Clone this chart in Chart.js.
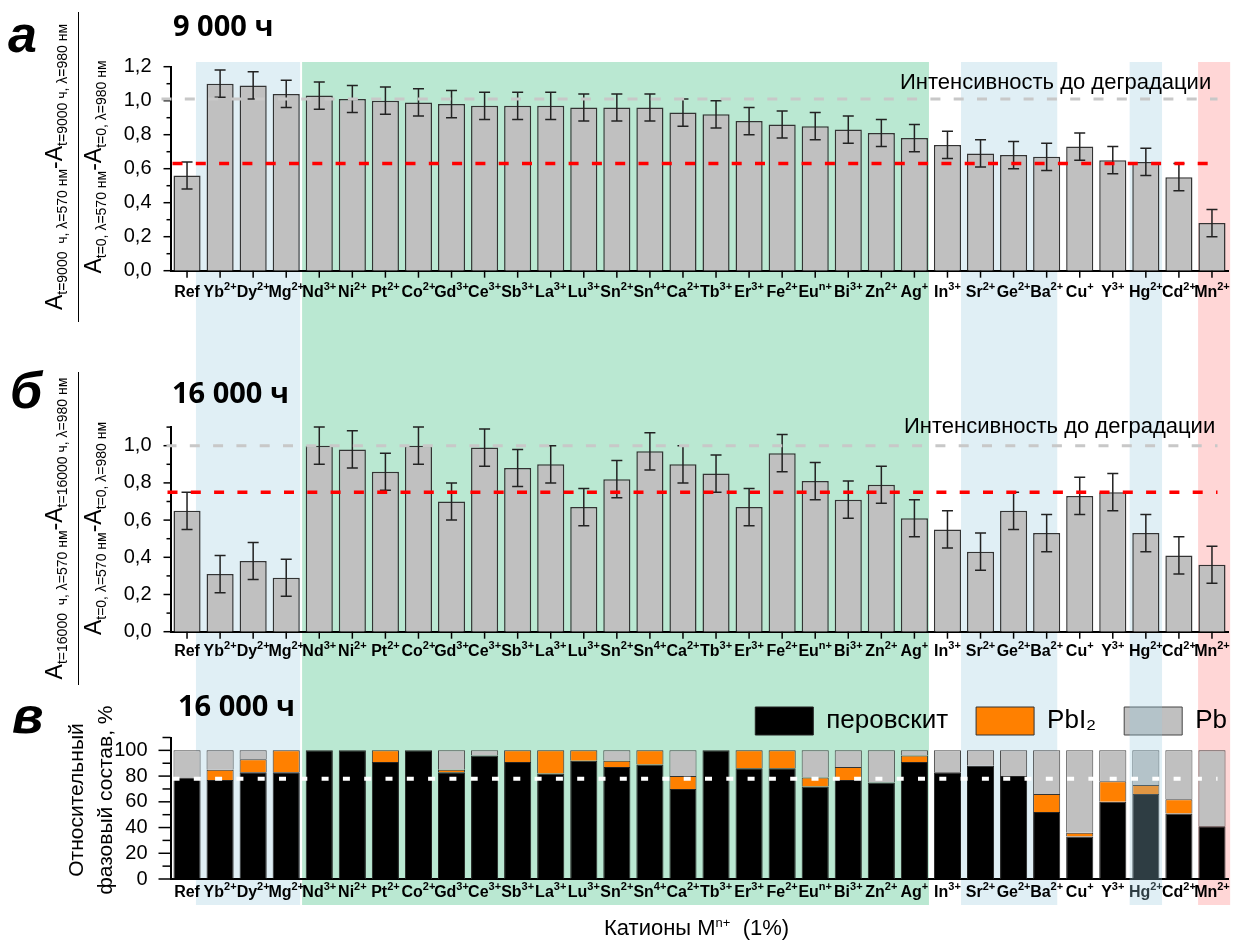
<!DOCTYPE html>
<html lang="ru">
<head>
<meta charset="utf-8">
<title>Катионы Mn+ (1%)</title>
<script src="https://cdn.jsdelivr.net/npm/chart.js@4.4.1/dist/chart.umd.min.js"></script>
<style>
  body { margin: 0; background: #fff; }
  #page { position: relative; width: 1237px; height: 943px; overflow: hidden;
          font-family: 'Liberation Sans', Arial, sans-serif; color: #000; }
  canvas { position: absolute; left: 0; }
  .txt { position: absolute; white-space: nowrap; line-height: 1; z-index: 5; }
  .letter { font-size: 52px; font-weight: bold; font-style: italic; }
  .period { font-family: 'Open Sans', sans-serif; font-weight: 700; font-size: 29px; }
  .note { font-size: 22px; }
  .note sup { font-size: 13px; vertical-align: 8px; line-height: 0; }
  .rot { position: absolute; transform-origin: 0 0; transform: rotate(-90deg); z-index: 5; white-space: nowrap; }
  .frac .num { height: 48px; line-height: 48px; text-align: center; font-size: 23px; border-bottom: 1.5px solid #000; }
  .frac .den { height: 28px; line-height: 28px; text-align: center; font-size: 23px; }
  .frac sub { font-size: 14px; vertical-align: -5px; line-height: 0; }
  .ytitle { font-size: 21px; line-height: 28.5px; text-align: center; width: 220px; }
</style>
</head>
<body>
<div id="page">
  <canvas id="chartA" width="1237" height="330" style="top:0"></canvas>
  <canvas id="chartB" width="1237" height="350" style="top:330px"></canvas>
  <canvas id="chartC" width="1237" height="303" style="top:640px"></canvas>

  <div class="txt letter" style="left:8px;top:8px">а</div>
  <div class="txt period" style="left:173px;top:10px">9 000 ч</div>
  <div class="txt note" style="left:900px;top:71px">Интенсивность до деградации</div>
  <div class="rot frac" style="left:30px;top:322px;width:310px">
    <div class="num">A<sub>t=9000&nbsp; ч, λ=570 нм</sub>-A<sub>t=9000 ч, λ=980 нм</sub></div>
    <div class="den">A<sub>t=0, λ=570 нм</sub>-A<sub>t=0, λ=980 нм</sub></div>
  </div>

  <div class="txt letter" style="left:10px;top:364px">б</div>
  <div class="txt period" style="left:172px;top:377px">16 000 ч</div>
  <div class="txt note" style="left:904px;top:415px">Интенсивность до деградации</div>
  <div class="rot frac" style="left:30px;top:685px;width:313px">
    <div class="num">A<sub>t=16000&nbsp; ч, λ=570 нм</sub>-A<sub>t=16000 ч, λ=980 нм</sub></div>
    <div class="den">A<sub>t=0, λ=570 нм</sub>-A<sub>t=0, λ=980 нм</sub></div>
  </div>

  <div class="txt letter" style="left:12px;top:689px">в</div>
  <div class="txt period" style="left:178px;top:690px">16 000 ч</div>
  <div class="rot ytitle" style="left:62px;top:910px">Относительный<br>фазовый состав, %</div>
  <div class="txt note" style="left:604px;top:917px">Катионы M<sup>n+</sup>&nbsp; (1%)</div>
</div>

<script>
// cation names and their charges, drawn as superscripts under each bar
var cations = ['Ref', 'Yb', 'Dy', 'Mg', 'Nd', 'Ni', 'Pt', 'Co', 'Gd', 'Ce', 'Sb', 'La', 'Lu', 'Sn', 'Sn', 'Ca',
               'Tb', 'Er', 'Fe', 'Eu', 'Bi', 'Zn', 'Ag', 'In', 'Sr', 'Ge', 'Ba', 'Cu', 'Y', 'Hg', 'Cd', 'Mn'];
var charges = ['', '2+', '2+', '2+', '3+', '2+', '2+', '2+', '3+', '3+', '3+', '3+', '3+', '2+', '4+', '2+',
               '3+', '3+', '2+', 'n+', '3+', '2+', '+', '3+', '2+', '2+', '2+', '+', '3+', '2+', '2+', '2+'];

// normalised absorbance after 9000 h and 16000 h
var retained9000 = [0.56, 1.10, 1.09, 1.04, 1.03, 1.01, 1.00, 0.99, 0.98, 0.97, 0.97, 0.97, 0.96, 0.96, 0.96, 0.93,
                    0.92, 0.88, 0.86, 0.85, 0.83, 0.81, 0.78, 0.74, 0.69, 0.68, 0.67, 0.73, 0.65, 0.64, 0.55, 0.28];
var error9000 = [0.08, 0.08, 0.08, 0.08, 0.08, 0.08, 0.08, 0.08, 0.08, 0.08, 0.08, 0.08, 0.08, 0.08, 0.08, 0.08,
                 0.08, 0.08, 0.08, 0.08, 0.08, 0.08, 0.08, 0.08, 0.08, 0.08, 0.08, 0.08, 0.08, 0.08, 0.08, 0.08];
var retained16000 = [0.65, 0.31, 0.38, 0.29, 1.00, 0.98, 0.86, 1.00, 0.70, 0.99, 0.88, 0.90, 0.67, 0.82, 0.97, 0.90,
                     0.85, 0.67, 0.96, 0.81, 0.71, 0.79, 0.61, 0.55, 0.43, 0.65, 0.53, 0.73, 0.75, 0.53, 0.41, 0.36];
var error16000 = [0.10, 0.10, 0.10, 0.10, 0.10, 0.10, 0.10, 0.10, 0.10, 0.10, 0.10, 0.10, 0.10, 0.10, 0.10, 0.10,
                  0.10, 0.10, 0.10, 0.10, 0.10, 0.10, 0.10, 0.10, 0.10, 0.10, 0.10, 0.10, 0.10, 0.10, 0.10, 0.10];

// phase composition after 16000 h, %
var perovskite = [79, 77, 83, 83, 100, 100, 91, 100, 83, 96, 91, 82, 92, 87, 89, 70,
                  100, 86, 86, 72, 77, 75, 91, 83, 88, 80, 52, 33, 60, 66, 51, 41];
var leadIodide = [0, 8, 10, 17, 0, 0, 9, 0, 2, 0, 9, 18, 8, 5, 11, 10,
                  0, 14, 14, 7, 10, 0, 5, 0, 0, 0, 14, 3, 16, 7, 11, 0];
var lead = [21, 15, 7, 0, 0, 0, 0, 0, 15, 4, 0, 0, 0, 8, 0, 20,
            0, 0, 0, 21, 13, 25, 4, 17, 12, 20, 34, 64, 24, 27, 38, 59];

// reference levels
var levelBefore9000 = 1.01, levelRef9000 = 0.63;
var levelBefore16000 = 1.0, levelRef16000 = 0.75;
var levelRefPhase = 78;

var FONT = "'Liberation Sans', Arial, sans-serif";
Chart.defaults.font.family = FONT;
Chart.defaults.color = '#000';

// coloured groups of cations, in category units
var BLUE = 'rgba(152,202,222,0.3)';
var groups = [
  { from: 0.27, to: 3.42, color: BLUE },
  { from: 3.48, to: 22.44, color: '#bae8d2' },
  { from: 23.41, to: 26.32, color: BLUE },
  { from: 28.51, to: 29.49, color: BLUE, hg: true },
  { from: 30.58, to: 31.55, color: '#ffd6d6' }
];

function paintBand(chart, b, o) {
  var xs = chart.scales.x, ctx = chart.ctx;
  var x0 = xs.getPixelForValue(b.from), x1 = xs.getPixelForValue(b.to);
  ctx.save();
  ctx.fillStyle = b.color;
  ctx.fillRect(x0, o.bandTop, x1 - x0, o.bandBottom - o.bandTop);
  ctx.restore();
}

var panelDecor = {
  id: 'panelDecor',
  afterLayout: function(chart, args, o) {
    if (o.legendShift && chart.legend) {
      var L = chart.legend;
      L.top += o.legendShift.y; L.bottom += o.legendShift.y;
      L.left += o.legendShift.x; L.right += o.legendShift.x;
    }
  },
  beforeDraw: function(chart, args, o) {
    groups.forEach(function(b) {
      if (!(b.hg && o.hgOnTop)) paintBand(chart, b, o);
    });
  },
  afterDraw: function(chart, args, o) {
    var ctx = chart.ctx, area = chart.chartArea;
    var xs = chart.scales.x, ys = chart.scales.y;
    ctx.save();
    ctx.strokeStyle = '#000';
    ctx.lineWidth = 1.5;

    // major and minor ticks on the value axis
    var n = Math.round((ys.max - ys.min) / o.minorStep);
    for (var k = 0; k <= n; k++) {
      var y = ys.getPixelForValue(ys.min + k * o.minorStep);
      var len = k % 2 === 0 ? o.majorLen : o.minorLen;
      ctx.beginPath(); ctx.moveTo(area.left, y); ctx.lineTo(area.left - len, y); ctx.stroke();
    }
    if (o.xTickLen) {
      cations.forEach(function(c, i) {
        var x = xs.getPixelForTick(i);
        ctx.beginPath(); ctx.moveTo(x, area.bottom); ctx.lineTo(x, area.bottom + o.xTickLen); ctx.stroke();
      });
    }

    // cation labels with raised charge
    ctx.fillStyle = '#000';
    ctx.textBaseline = 'alphabetic';
    ctx.textAlign = 'left';
    var yText = area.bottom + o.labelGap;
    cations.forEach(function(c, i) {
      var x = xs.getPixelForTick(i);
      ctx.font = 'bold ' + o.labelSize + 'px ' + FONT;
      var w1 = ctx.measureText(c).width;
      ctx.font = 'bold ' + o.supSize + 'px ' + FONT;
      var w2 = ctx.measureText(charges[i]).width;
      var left = x - (w1 + w2) / 2;
      ctx.font = 'bold ' + o.labelSize + 'px ' + FONT;
      ctx.fillText(c, left, yText);
      ctx.font = 'bold ' + o.supSize + 'px ' + FONT;
      ctx.fillText(charges[i], left + w1, yText - o.supRise);
    });

    // error bars
    if (o.errors) {
      var meta = chart.getDatasetMeta(0);
      var vals = chart.data.datasets[0].data;
      ctx.strokeStyle = '#222';
      ctx.lineWidth = 1.5;
      meta.data.forEach(function(bar, i) {
        var yHi = ys.getPixelForValue(vals[i] + o.errors[i]);
        var yLo = ys.getPixelForValue(vals[i] - o.errors[i]);
        ctx.beginPath();
        ctx.moveTo(bar.x, yHi); ctx.lineTo(bar.x, yLo);
        ctx.moveTo(bar.x - 5.5, yHi); ctx.lineTo(bar.x + 5.5, yHi);
        ctx.moveTo(bar.x - 5.5, yLo); ctx.lineTo(bar.x + 5.5, yLo);
        ctx.stroke();
      });
    }

    // the Hg column is shaded over the bars in the phase panel
    if (o.hgOnTop) {
      groups.forEach(function(b) { if (b.hg) paintBand(chart, b, o); });
    }

    // dashed reference levels
    o.lines.forEach(function(l) {
      var y = ys.getPixelForValue(l.value);
      ctx.strokeStyle = l.color;
      ctx.lineWidth = l.width;
      ctx.setLineDash(l.dash);
      ctx.beginPath(); ctx.moveTo(area.left + l.from, y); ctx.lineTo(area.right - 11, y); ctx.stroke();
    });
    ctx.restore();
  }
};

// ticks come every half step, only the even ones get a label
function commaTick(v) {
  var t = Math.round(v * 10);
  return t % 2 ? '' : (t / 10).toFixed(1).replace('.', ',');
}
function percentTick(v) {
  var t = Math.round(v);
  return t % 20 ? '' : String(t);
}

function valueAxis(max, step, pad, fmt) {
  return {
    min: 0, max: max,
    grid: { display: false },
    border: { display: true, color: '#000', width: 2 },
    ticks: { stepSize: step, color: '#000', padding: pad, font: { size: 20 }, callback: fmt, autoSkip: false },
    afterFit: function(scale) { scale.width = 170.5; }
  };
}

function categoryAxis(height, stacked) {
  return {
    stacked: stacked,
    grid: { display: false },
    border: { display: true, color: '#000', width: 2 },
    ticks: { display: false },
    afterFit: function(scale) { scale.height = height; }
  };
}

var labels = cations.map(function(c, i) { return c + charges[i]; });

// а: 9000 h
new Chart(document.getElementById('chartA'), {
  type: 'bar',
  data: {
    labels: labels,
    datasets: [{ data: retained9000, backgroundColor: '#c0c0c0', borderColor: '#333', borderWidth: 1.5,
                 barPercentage: 0.82, categoryPercentage: 1 }]
  },
  options: {
    responsive: false, animation: false, events: [],
    layout: { padding: { top: 66.7, right: 8.5, bottom: 0, left: 0 } },
    plugins: {
      legend: { display: false }, tooltip: { enabled: false },
      panelDecor: {
        bandTop: 62, bandBottom: 330, minorStep: 0.1, majorLen: 7, minorLen: 4, xTickLen: 7,
        labelGap: 26, labelSize: 16, supSize: 11, supRise: 7, errors: error9000,
        lines: [
          { value: levelBefore9000, color: '#c8c8c8', width: 3, dash: [10, 13.3], from: -9 },
          { value: levelRef9000, color: '#ff0000', width: 3.5, dash: [10, 13.3], from: 2 }
        ]
      }
    },
    scales: { x: categoryAxis(330 - 270.7, false), y: valueAxis(1.2, 0.1, 11, commaTick) }
  },
  plugins: [panelDecor]
});

// б: 16000 h
new Chart(document.getElementById('chartB'), {
  type: 'bar',
  data: {
    labels: labels,
    datasets: [{ data: retained16000, backgroundColor: '#c0c0c0', borderColor: '#333', borderWidth: 1.5,
                 barPercentage: 0.82, categoryPercentage: 1 }]
  },
  options: {
    responsive: false, animation: false, events: [],
    layout: { padding: { top: 97.1, right: 8.5, bottom: 0, left: 0 } },
    plugins: {
      legend: { display: false }, tooltip: { enabled: false },
      panelDecor: {
        bandTop: 0, bandBottom: 350, minorStep: 0.1, majorLen: 7, minorLen: 4, xTickLen: 7,
        labelGap: 24.5, labelSize: 16, supSize: 11, supRise: 7, errors: error16000,
        lines: [
          { value: levelBefore16000, color: '#c8c8c8', width: 3, dash: [10, 13.3], from: -4 },
          { value: levelRef16000, color: '#ff0000', width: 3.5, dash: [10, 13.3], from: -3 }
        ]
      }
    },
    scales: { x: categoryAxis(350 - 301.7, false), y: valueAxis(1.1, 0.1, 11, commaTick) }
  },
  plugins: [panelDecor]
});

// в: phase composition
new Chart(document.getElementById('chartC'), {
  type: 'bar',
  data: {
    labels: labels,
    datasets: [
      { label: 'перовскит', data: perovskite, backgroundColor: '#000', borderColor: '#222', borderWidth: 1,
        barPercentage: 0.82, categoryPercentage: 1 },
      { label: 'PbI₂', data: leadIodide, backgroundColor: '#ff8000', borderColor: '#333', borderWidth: 1,
        barPercentage: 0.82, categoryPercentage: 1 },
      { label: 'Pb', data: lead, backgroundColor: '#c0c0c0', borderColor: '#444', borderWidth: 1,
        barPercentage: 0.82, categoryPercentage: 1 }
    ]
  },
  options: {
    responsive: false, animation: false, events: [],
    layout: { padding: { top: 31.5, right: 8.5, bottom: 0, left: 0 } },
    plugins: {
      legend: {
        display: true, position: 'top', align: 'end',
        labels: { boxWidth: 58, boxHeight: 28, padding: 28, color: '#000', font: { size: 26 } }
      },
      tooltip: { enabled: false },
      panelDecor: {
        bandTop: 40, bandBottom: 265, hgOnTop: true, legendShift: { x: 26.5, y: 7.5 },
        minorStep: 10, majorLen: 12, minorLen: 8, xTickLen: 0,
        labelGap: 18, labelSize: 16, supSize: 11, supRise: 7,
        lines: [
          { value: levelRefPhase, color: '#ffffff', width: 4, dash: [7, 14.3], from: 2 }
        ]
      }
    },
    scales: {
      x: categoryAxis(303 - 239, true),
      y: Object.assign(valueAxis(110, 10, 15, percentTick), { stacked: true })
    }
  },
  plugins: [panelDecor]
});
</script>
</body>
</html>
